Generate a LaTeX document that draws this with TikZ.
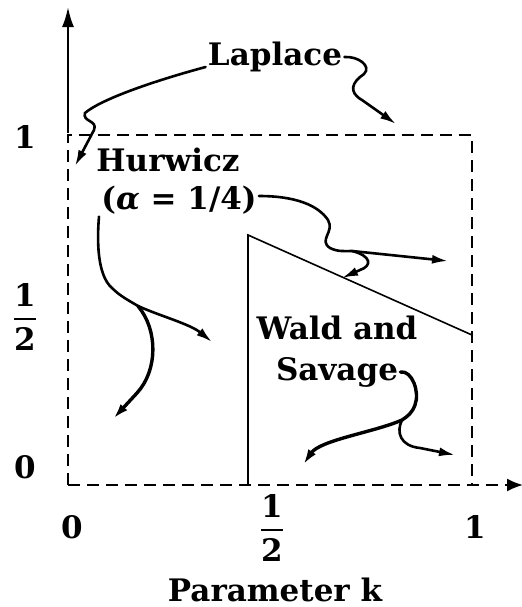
\documentclass[tikz,border=0pt]{standalone}
\usepackage{amsmath}
\usepackage{fontspec}
\setmainfont{DejaVu Serif}
\usetikzlibrary{arrows.meta}
\newcommand{\halffrac}{$\genfrac{}{}{1.2pt}{0}{\text{1}}{\text{2}}$}
\tikzset{lbl/.style={font=\fontsize{15.5}{18}\selectfont\bfseries,inner sep=1pt},frame/.style={line width=.9pt,dash pattern=on 6pt off 3.5pt},edge/.style={line width=.8pt},axis/.style={line width=1.1pt,-{Latex[length=10pt,width=6pt]}},wiggle/.style={line width=1.3pt,line cap=round,-{Latex[length=8pt,width=4.5pt]}},heavy/.style={wiggle,line width=1.7pt}}
\begin{document}
\begin{tikzpicture}[x=.5pt,y=-.5pt]
      \useasboundingbox (0,0) rectangle (522,607);
      \draw[axis](68,133)--(68,7);
      \draw[frame](68,485)--(68,135)--(472,135)--(472,485);
      \draw[frame,-{Latex[length=8pt,width=6.5pt]}](68,485)--(523,485);
      \draw[edge](248,485)--(248,235)--(472,335);
      \node[lbl]at(25,137)(y1){1};\node[lbl]at(25,317)(yhalf){\halffrac};\node[lbl]at(25,467)(y0){0};
      \node[lbl]at(72,527)(x0){0};\node[lbl]at(272,528)(xhalf){\halffrac};\node[lbl]at(475,527)(x1){1};
      \node[lbl]at(275,590)(xlabel){Parameter k};
      \node[lbl]at(275,57)(laplace){Laplace};
      \node[lbl]at(168,160)(hurwicz){Hurwicz};\node[lbl]at(179,200)(alpha){({\itshape α} = 1/4)};
      \node[lbl]at(337,328)(wald){Wald and};\node[lbl]at(337,372)(savage){Savage};
      \coordinate(t1)at(75,166);\coordinate(t2)at(396,124);
      \coordinate(f3)at(352,251);\coordinate(t3a)at(448,261);\coordinate(t3b)at(342,278);
      \coordinate(f4)at(138,306);\coordinate(t4a)at(212,342);\coordinate(t4b)at(113,419);
      \coordinate(f5)at(402,420);\coordinate(t5a)at(303,465);\coordinate(t5b)at(455,455);
      \draw[wiggle]([yshift=-5pt]laplace.west)..controls(150,82)and(100,100)..(85,113)..controls(82,122)and(98,120)..(94,130)--(t1);
      \draw[wiggle](laplace.east)..controls(358,56)and(372,66)..(364,74)..controls(352,82)and(348,92)..(362,100)--(t2);
      \draw[wiggle]([yshift=2pt]alpha.east)..controls(295,196)and(318,205)..(328,220)..controls(335,232)and(318,240)..(330,248)..controls(338,252)and(345,251)..(f3)--(t3a);
      \draw[wiggle](f3)..controls(372,256)and(372,266)..(360,270)--(t3b);
      \draw[wiggle](alpha.south west)..controls(97,240)and(97,275)..(112,288)..controls(120,296)and(128,300)..(f4)..controls(160,316)and(190,324)..(t4a);
      \draw[heavy](f4)..controls(158,330)and(158,370)..(137,393)--(t4b);
      \draw[heavy](savage.east)..controls(412,370)and(420,392)..(415,405)..controls(412,413)and(408,416)..(f5)..controls(375,432)and(320,440)..(t5a);
      \draw[wiggle](f5)..controls(396,432)and(400,446)..(420,448)--(t5b);
    \end{tikzpicture}
\end{document}
